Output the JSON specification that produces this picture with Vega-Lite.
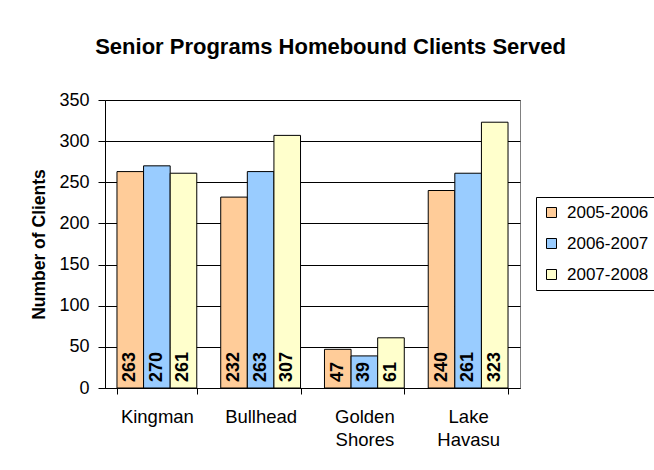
{
  "$schema": "https://vega.github.io/schema/vega-lite/v6.json",
  "width": 415,
  "height": 288,
  "autosize": {"type": "none"},
  "padding": {"left": 105, "top": 100, "right": 134, "bottom": 82},
  "background": "white",
  "config": {
    "font": "Liberation Sans",
    "view": {"stroke": "#808080", "strokeWidth": 1}
  },
  "title": {
    "text": "Senior Programs Homebound Clients Served",
    "fontSize": 22,
    "fontWeight": "bold",
    "color": "#000000",
    "anchor": "middle",
    "frame": "group",
    "dx": 18,
    "baseline": "alphabetic",
    "offset": 15
  },
  "data": {
    "values": [
      {"city": "Kingman", "period": "2005-2006", "value": 263},
      {"city": "Kingman", "period": "2006-2007", "value": 270},
      {"city": "Kingman", "period": "2007-2008", "value": 261},
      {"city": "Bullhead", "period": "2005-2006", "value": 232},
      {"city": "Bullhead", "period": "2006-2007", "value": 263},
      {"city": "Bullhead", "period": "2007-2008", "value": 307},
      {"city": "Golden Shores", "period": "2005-2006", "value": 47},
      {"city": "Golden Shores", "period": "2006-2007", "value": 39},
      {"city": "Golden Shores", "period": "2007-2008", "value": 61},
      {"city": "Lake Havasu", "period": "2005-2006", "value": 240},
      {"city": "Lake Havasu", "period": "2006-2007", "value": 261},
      {"city": "Lake Havasu", "period": "2007-2008", "value": 323}
    ]
  },
  "encoding": {
    "x": {
      "field": "city",
      "type": "nominal",
      "sort": ["Kingman", "Bullhead", "Golden Shores", "Lake Havasu"],
      "scale": {"paddingInner": 0.2308, "paddingOuter": 0.1154},
      "axis": {
        "title": null,
        "labelAngle": 0,
        "labelFontSize": 18.5,
        "labelColor": "#000000",
        "labelExpr": "split(datum.label, ' ')",
        "labelLineHeight": 23.5,
        "labelBaseline": "top",
        "labelPadding": 13,
        "tickBand": "extent",
        "tickSize": 6,
        "tickColor": "#000000",
        "domainColor": "#000000",
        "grid": false
      }
    },
    "xOffset": {
      "field": "period",
      "type": "nominal",
      "scale": {"paddingInner": 0, "paddingOuter": 0}
    },
    "y": {
      "field": "value",
      "type": "quantitative",
      "scale": {"domain": [0, 350], "nice": false},
      "axis": {
        "title": "Number of Clients",
        "titleFontSize": 17.5,
        "titleFontWeight": "bold",
        "titleColor": "#000000",
        "titleAngle": 270,
        "titleAlign": "center",
        "titleBaseline": "middle",
        "titleX": -66,
        "titleY": 144,
        "values": [0, 50, 100, 150, 200, 250, 300, 350],
        "labelFontSize": 18,
        "labelColor": "#000000",
        "labelPadding": 9,
        "tickSize": 7,
        "tickColor": "#000000",
        "domainColor": "#000000",
        "gridColor": "#000000",
        "gridWidth": 1
      }
    }
  },
  "layer": [
    {
      "mark": {"type": "bar", "stroke": "#000000", "strokeWidth": 1},
      "encoding": {
        "color": {
          "field": "period",
          "type": "nominal",
          "scale": {
            "domain": ["2005-2006", "2006-2007", "2007-2008"],
            "range": ["#FFCC99", "#99CCFF", "#FFFFCC"]
          },
          "legend": {
            "title": null,
            "orient": "none",
            "legendX": 431,
            "legendY": 97,
            "labelFontSize": 17,
            "labelColor": "#000000",
            "labelOffset": 7,
            "symbolType": "square",
            "symbolSize": 100,
            "symbolStrokeColor": "#000000",
            "symbolStrokeWidth": 1,
            "rowPadding": 13,
            "padding": 7,
            "strokeColor": "#000000",
            "fillColor": "#FFFFFF"
          }
        }
      }
    },
    {
      "mark": {
        "type": "text",
        "angle": 270,
        "align": "left",
        "baseline": "middle",
        "dx": 6,
        "fontSize": 18,
        "fontWeight": "bold",
        "color": "#000000"
      },
      "encoding": {
        "y": {"datum": 0},
        "text": {"field": "value", "type": "quantitative"}
      }
    }
  ]
}
